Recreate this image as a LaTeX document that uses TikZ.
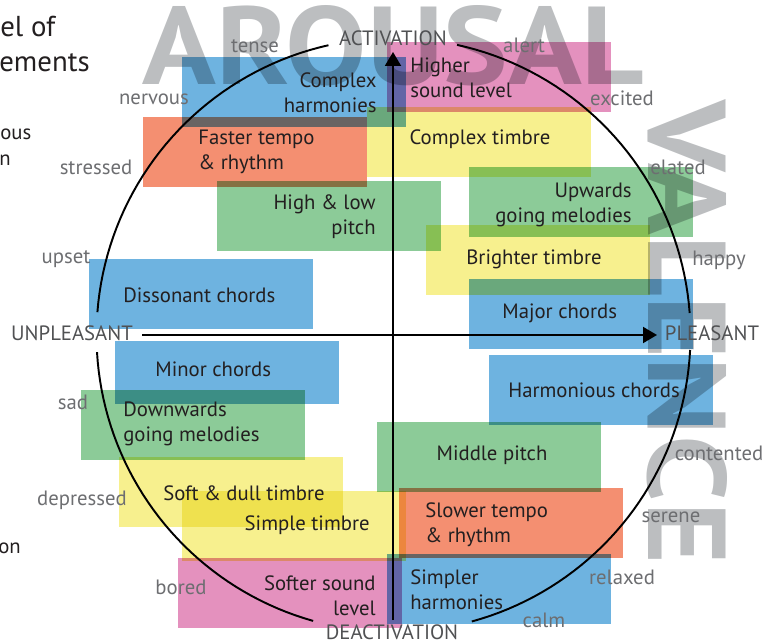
\documentclass[tikz,border=0pt]{standalone}
\usepackage{fontspec}
\setmainfont{PT Sans}
\usetikzlibrary{calc,arrows.meta}

\definecolor{mblue}{RGB}{110,179,224}
\definecolor{msalmon}{RGB}{244,143,113}
\definecolor{mgreen}{RGB}{140,203,152}
\definecolor{myellow}{RGB}{247,240,142}
\definecolor{mpink}{RGB}{228,145,190}
\definecolor{bigtext}{RGB}{188,190,192}
\definecolor{emotext}{RGB}{109,110,113}
\definecolor{axtext}{RGB}{80,81,83}
\definecolor{boxtext}{RGB}{35,31,32}

\tikzset{harmony/.style={fill=mblue,blend mode=multiply},
         tempo/.style={fill=msalmon,blend mode=multiply},
         pitch/.style={fill=mgreen,blend mode=multiply},
         timbre/.style={fill=myellow,blend mode=multiply},
         loudness/.style={fill=mpink,blend mode=multiply}}
\tikzset{feat/.style={inner sep=0pt,text=boxtext,font=\fontsize{11.8}{14.2}\selectfont},
         emo/.style={inner sep=0pt,text=emotext,font=\fontsize{11.8}{14.2}\selectfont},
         pole/.style={inner sep=0pt,text=axtext,font=\fontsize{11.8}{14.2}\selectfont},
         dim/.style={inner sep=0pt,text=bigtext,blend mode=multiply,font=\fontsize{63}{63}\bfseries\selectfont},
         cut/.style={inner sep=0pt,text=boxtext,anchor=west},
         axis/.style={line width=1.1pt,-{Triangle[length=0.28cm,width=0.32cm]}},
         ring/.style={line width=1.1pt}}

\begin{document}
\begin{tikzpicture}[x=0.02cm,y=-0.02cm]
\useasboundingbox (0,0) rectangle (767,641);

% Nodes
\node (box)  at (224,70) {};
\node (boxm) at (224,63) {};

\node (hc)  at (182,57)  {};
\node (hsl) at (387,42)  {};
\node (ct)  at (367,107) {};
\node (ft)  at (143,117) {};
\node (hlp) at (217,181) {};
\node (ugm) at (469,167) {};
\node (bt)  at (426,225) {};
\node (maj) at (469,279) {};
\node (dis) at (89,259)  {};
\node (min) at (115,341) {};
\node (har) at (489,355) {};
\node (dgm) at (81,390)  {};
\node (mp)  at (377,422) {};
\node (sdt) at (119,457) {};
\node (st)  at (182,491) {};
\node (stt) at (399,488) {};
\node (ssl) at (178,558) {};
\node (sh)  at (387,554) {};

% Feature boxes
\fill[harmony]  (hc)  rectangle ($(hc)+(box)$);
\fill[loudness] (hsl) rectangle ($(hsl)+(box)$);
\fill[timbre]   (ct)  rectangle ($(ct)+(box)$);
\fill[tempo]    (ft)  rectangle ($(ft)+(box)$);
\fill[pitch]    (hlp) rectangle ($(hlp)+(box)$);
\fill[pitch]    (ugm) rectangle ($(ugm)+(box)$);
\fill[timbre]   (bt)  rectangle ($(bt)+(box)$);
\fill[harmony]  (maj) rectangle ($(maj)+(box)$);
\fill[harmony]  (dis) rectangle ($(dis)+(box)$);
\fill[harmony]  (min) rectangle ($(min)+(boxm)$);
\fill[harmony]  (har) rectangle ($(har)+(box)$);
\fill[pitch]    (dgm) rectangle ($(dgm)+(box)$);
\fill[pitch]    (mp)  rectangle ($(mp)+(box)$);
\fill[timbre]   (sdt) rectangle ($(sdt)+(box)$);
\fill[timbre]   (st)  rectangle ($(st)+(box)$);
\fill[tempo]    (stt) rectangle ($(stt)+(box)$);
\fill[loudness] (ssl) rectangle ($(ssl)+(box)$);
\fill[harmony]  (sh)  rectangle ($(sh)+(box)$);

% Dimension words
\node[dim] (arousal) at (393.5,45.5) {\scalebox{1.1}[1]{AROUSAL}};
\node[dim,rotate=-90] (valence) at (687,332) {\scalebox{1.07}[1]{VALENCE}};

% Feature labels
\node[feat,anchor=east,align=right] (hclab)  at (377,92.5)  {Complex\\harmonies};
\node[feat,anchor=west,align=left]  (hsllab) at (410,77.5)  {Higher\\sound level};
\node[feat] (ctlab) at (480,139) {Complex timbre};
\node[feat,anchor=west,align=left]  (ftlab)  at (198,152)   {Faster tempo\\\& rhythm};
\node[feat,anchor=east,align=right] (hlplab) at (376,217)   {High \& low\\pitch};
\node[feat,anchor=east,align=right] (ugmlab) at (632,204.5) {Upwards\\going melodies};
\node[feat] (btlab) at (534,259) {Brighter timbre};
\node[feat,anchor=west] (majlab) at (502,313) {Major chords};
\node[feat,anchor=west] (dislab) at (123,295) {Dissonant chords};
\node[feat,anchor=west] (minlab) at (155,369) {Minor chords};
\node[feat,anchor=west] (harlab) at (508,390) {Harmonious chords};
\node[feat,anchor=west,align=left]  (dgmlab) at (123,424)   {Downwards\\going melodies};
\node[feat] (mplab) at (492,455) {Middle pitch};
\node[feat,anchor=west] (sdtlab) at (163,493) {Soft \& dull timbre};
\node[feat,anchor=east] (stlab)  at (370,525) {Simple timbre};
\node[feat,anchor=west,align=left]  (sttlab) at (425,525)   {Slower tempo\\\& rhythm};
\node[feat,anchor=east,align=right] (ssllab) at (376,595.5) {Softer sound\\level};
\node[feat,anchor=west,align=left]  (shlab)  at (410,589.5) {Simpler\\harmonies};

% Axes
\coordinate (vbot)   at (393,620);
\coordinate (vtop)   at (393,52);
\coordinate (hleft)  at (142,335);
\coordinate (hright) at (657,335);
\draw[axis] (vbot) -- (vtop);
\draw[axis] (hleft) -- (hright);

% Circle
\foreach \a/\b in {-77.65/-4.25, 2.9/74.7, 105.7/176.7, 184.4/257.35}
  \draw[ring] plot[domain=\a:\b,samples=40] ({393.5+297*cos(\x)},{335+297*sin(\x)});

% Pole labels
\node[pole] (act)   at (393,38.5) {ACTIVATION};
\node[pole] (deact) at (392,632)  {DEACTIVATION};
\node[pole] (unpl)  at (72,333)   {UNPLEASANT};
\node[pole] (pleas) at (712,333)  {PLEASANT};

% Emotion words
\node[emo] (tense)     at (255,46)  {tense};
\node[emo] (alert)     at (524,45)  {alert};
\node[emo] (nervous)   at (154,99)  {nervous};
\node[emo] (excited)   at (622,98)  {excited};
\node[emo] (stressed)  at (96,167)  {stressed};
\node[emo] (elated)    at (678,167) {elated};
\node[emo] (upset)     at (66,259)  {upset};
\node[emo] (happy)     at (719,260) {happy};
\node[emo] (sad)       at (73,402)  {sad};
\node[emo] (contented) at (719,453) {contented};
\node[emo] (depressed) at (82,500)  {depressed};
\node[emo] (serene)    at (671,517) {serene};
\node[emo] (bored)     at (181,587) {bored};
\node[emo] (relaxed)   at (622,577) {relaxed};
\node[emo] (calm)      at (544,620) {calm};

% Cut-off text at the left edge
\node[cut,font=\fontsize{16.4}{19}\selectfont] (title1) at (0,27)  {el of};
\node[cut,font=\fontsize{16.4}{19}\selectfont] (title2) at (-1,63) {ements};
\node[cut,font=\fontsize{11.8}{14.2}\selectfont] (side1) at (0,134)  {ous};
\node[cut,font=\fontsize{11.8}{14.2}\selectfont] (side2) at (-1,160) {n};
\node[cut,font=\fontsize{11.8}{14.2}\selectfont] (side3) at (-2,548) {on};

\end{tikzpicture}
\end{document}
